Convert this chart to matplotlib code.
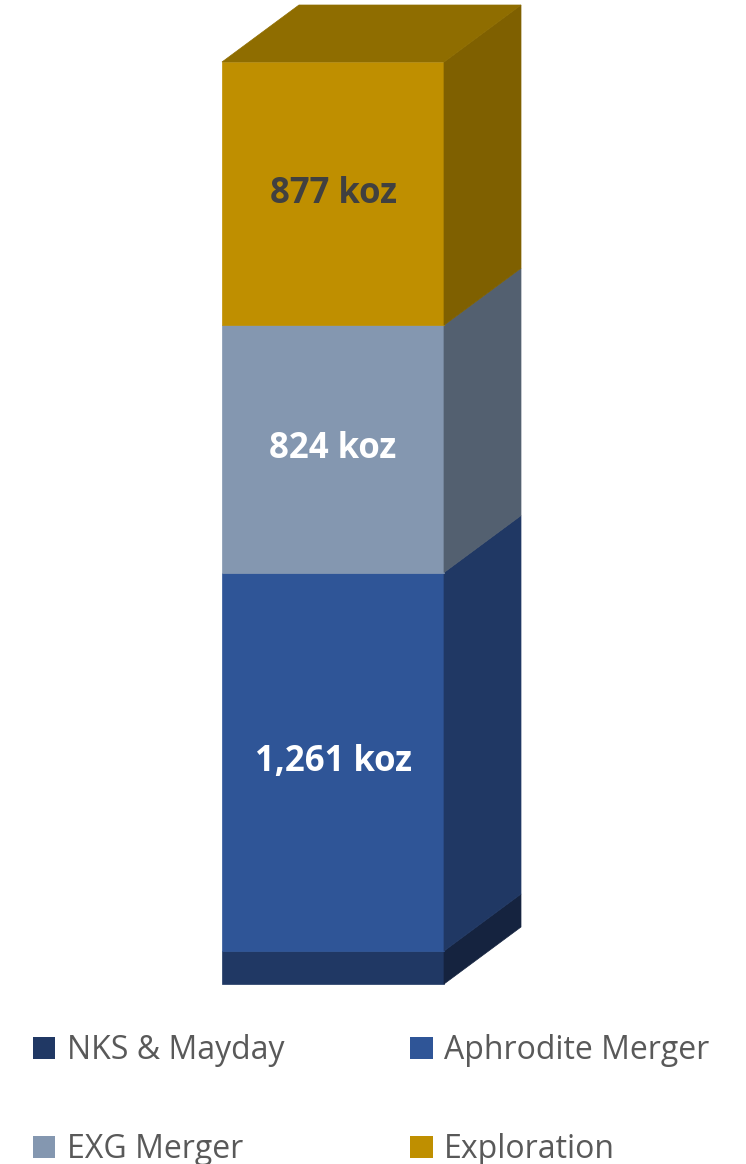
import matplotlib
matplotlib.use("Agg")
import matplotlib.pyplot as plt
from matplotlib.patches import Polygon, Patch

plt.rcParams['font.family'] = ['Open Sans', 'DejaVu Sans']

# data (koz), bottom to top
series = ["NKS & Mayday", "Aphrodite Merger", "EXG Merger", "Exploration"]
values = [110, 1261, 824, 877]
labels = ["", "1,261 koz", "824 koz", "877 koz"]
front_colors = ["#203864", "#2F5597", "#8497B0", "#BF8F00"]
side_colors = ["#15233F", "#203864", "#536070", "#7F6000"]
top_color = "#8F6D00"
label_colors = ["white", "white", "white", "#404040"]

W, H = 746, 1164
fig = plt.figure(figsize=(W / 100, H / 100), dpi=100)
ax = fig.add_axes([0, 0, 1, 1])
ax.axis("off")

# layout in pixels: front face 222..444, bottom at 984, top at 62, depth 77x57
total = sum(values)
ppk = (984 - 62) / total          # pixels per koz
ppx = 444 - 222                   # pixels per bar width unit
ax.set_ylim(-(H - 984) / ppk, total + 62 / ppk)
ax.set_xlim(-222 / ppx, (W - 222) / ppx)
dx = 77 / ppx
dy = 57 / ppk

bottom = 0
for v, lab, fc, sc, tc in zip(values, labels, front_colors, side_colors, label_colors):
    top = bottom + v
    ax.add_patch(Polygon([(0, bottom), (1, bottom), (1, top), (0, top)],
                         closed=True, facecolor=fc, edgecolor=fc, lw=0.5))
    ax.add_patch(Polygon([(1, bottom), (1 + dx, bottom + dy), (1 + dx, top + dy), (1, top)],
                         closed=True, facecolor=sc, edgecolor=sc, lw=0.5))
    if lab:
        ax.text(0.5, bottom + v / 2, lab, ha="center", va="center",
                fontsize=25, fontweight="bold", color=tc)
    bottom = top

ax.add_patch(Polygon([(0, bottom), (dx, bottom + dy), (1 + dx, bottom + dy), (1, bottom)],
                     closed=True, facecolor=top_color, edgecolor=top_color, lw=0.5))

order = [0, 2, 1, 3]
handles = [Patch(facecolor=front_colors[i], edgecolor="none") for i in order]
names = [series[i] for i in order]
fig.legend(handles, names, ncol=2, frameon=False, loc="upper left",
           bbox_to_anchor=(33 / W, 1 - 1034 / H), fontsize=23, labelcolor="#595959",
           handlelength=0.7, handleheight=0.7, handletextpad=0.35,
           columnspacing=3.95, labelspacing=2.07, borderpad=0, borderaxespad=0)

fig.savefig("out.png", dpi=100)
